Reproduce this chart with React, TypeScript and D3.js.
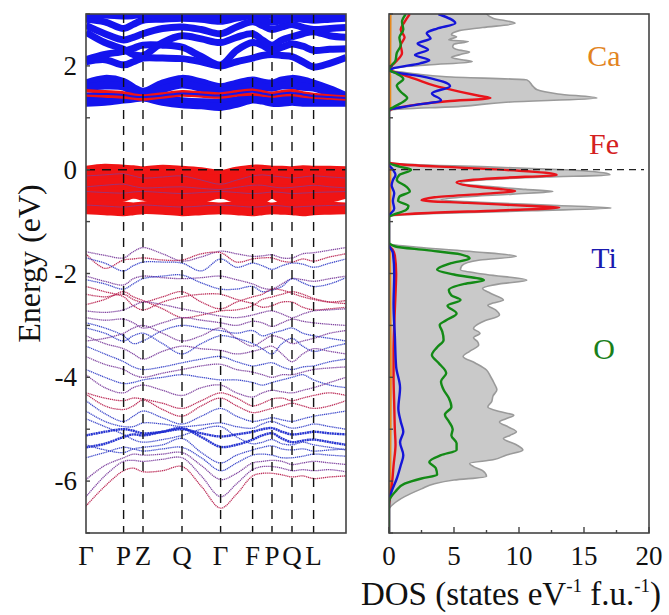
import React from "react";
import * as d3 from "d3";

// ---------- k-path ----------
const kLabels = ["Γ", "P", "Z", "Q", "Γ", "F", "P", "Q", "L", ""];
const kTicks = [0, 0.376, 0.57, 0.96, 1.346, 1.666, 1.86, 2.06, 2.276, 2.6];
const energyTicks = [-6, -4, -2, 0, 2];
const dosTicks = [0, 5, 10, 15, 20];
const dosMinorTicks = [2.5, 7.5, 12.5, 17.5];

// Band energies (eV) at: Γ m P m Z m Q m Γ m F m P m Q m L m end
const upperCond = [
  [2.08, 2.12, 2.02, 2.08, 2.15, 2.15, 2.14, 2.08, 2.0, 2.08, 2.15, 2.2, 2.22, 2.2, 2.18, 2.08, 1.98, 2.05, 2.16],
  [2.12, 2.22, 2.28, 2.34, 2.4, 2.4, 2.36, 2.18, 2.02, 2.3, 2.45, 2.4, 2.3, 2.36, 2.42, 2.38, 2.3, 2.32, 2.33],
  [2.65, 2.45, 2.32, 2.22, 2.2, 2.45, 2.58, 2.52, 2.45, 2.55, 2.62, 2.5, 2.4, 2.5, 2.56, 2.62, 2.66, 2.58, 2.55],
  [2.78, 2.62, 2.5, 2.55, 2.62, 2.72, 2.75, 2.7, 2.62, 2.75, 2.85, 2.78, 2.7, 2.75, 2.8, 2.74, 2.7, 2.72, 2.74],
  [2.9, 2.85, 2.72, 2.8, 2.88, 2.9, 2.92, 2.9, 2.86, 2.92, 2.96, 2.9, 2.84, 2.88, 2.92, 2.9, 2.88, 2.9, 2.92],
  [2.97, 2.98, 2.96, 2.97, 2.99, 2.98, 3.0, 2.98, 2.96, 2.99, 3.02, 3.0, 2.97, 2.98, 3.0, 2.99, 2.98, 2.97, 2.97],
];
const lowerCondBlue = [
  [1.66, 1.75, 1.69, 1.58, 1.5, 1.66, 1.75, 1.68, 1.59, 1.66, 1.72, 1.68, 1.66, 1.72, 1.75, 1.72, 1.66, 1.55, 1.42],
  [1.58, 1.62, 1.6, 1.5, 1.45, 1.55, 1.64, 1.58, 1.5, 1.56, 1.62, 1.6, 1.58, 1.62, 1.62, 1.6, 1.58, 1.48, 1.38],
  [1.37, 1.39, 1.41, 1.4, 1.43, 1.36, 1.32, 1.3, 1.3, 1.34, 1.37, 1.36, 1.34, 1.36, 1.37, 1.35, 1.33, 1.32, 1.32],
  [1.29, 1.31, 1.35, 1.37, 1.39, 1.31, 1.26, 1.24, 1.21, 1.27, 1.35, 1.33, 1.29, 1.29, 1.31, 1.29, 1.29, 1.29, 1.29],
];
const lowerCondRed = [
  [1.52, 1.5, 1.48, 1.44, 1.42, 1.46, 1.5, 1.48, 1.46, 1.5, 1.53, 1.5, 1.47, 1.5, 1.52, 1.48, 1.45, 1.42, 1.4],
  [1.44, 1.42, 1.4, 1.38, 1.36, 1.4, 1.44, 1.42, 1.4, 1.44, 1.46, 1.44, 1.42, 1.44, 1.45, 1.42, 1.4, 1.38, 1.36],
];
const lowerCondMid = [
  [1.47, 1.46, 1.44, 1.41, 1.4, 1.43, 1.47, 1.45, 1.43, 1.47, 1.5, 1.47, 1.44, 1.47, 1.48, 1.45, 1.42, 1.4, 1.38],
];
const feBands = [
  [-0.02, 0.02, 0.0, -0.01, -0.03, 0.0, -0.02, -0.05, -0.1, -0.04, 0.0, 0.0, -0.02, -0.02, -0.03, -0.01, -0.02, -0.02, -0.03],
  [-0.15, -0.12, -0.1, -0.13, -0.15, -0.12, -0.12, -0.16, -0.2, -0.14, -0.1, -0.12, -0.14, -0.13, -0.12, -0.12, -0.13, -0.14, -0.15],
  [-0.28, -0.26, -0.24, -0.26, -0.28, -0.26, -0.25, -0.28, -0.32, -0.28, -0.25, -0.26, -0.27, -0.26, -0.25, -0.26, -0.27, -0.28, -0.28],
  [-0.4, -0.38, -0.37, -0.38, -0.4, -0.38, -0.38, -0.4, -0.42, -0.4, -0.38, -0.38, -0.39, -0.38, -0.38, -0.39, -0.4, -0.4, -0.4],
  [-0.48, -0.47, -0.46, -0.46, -0.46, -0.48, -0.5, -0.5, -0.46, -0.5, -0.48, -0.48, -0.46, -0.49, -0.5, -0.5, -0.49, -0.48, -0.46],
  [-0.58, -0.58, -0.52, -0.46, -0.5, -0.58, -0.58, -0.55, -0.46, -0.55, -0.58, -0.56, -0.46, -0.56, -0.58, -0.58, -0.58, -0.54, -0.46],
  [-0.7, -0.68, -0.71, -0.73, -0.71, -0.68, -0.68, -0.7, -0.73, -0.7, -0.68, -0.69, -0.73, -0.7, -0.68, -0.68, -0.7, -0.71, -0.73],
  [-0.76, -0.78, -0.8, -0.78, -0.76, -0.77, -0.8, -0.78, -0.76, -0.78, -0.8, -0.78, -0.76, -0.77, -0.78, -0.8, -0.78, -0.77, -0.76],
];
const feThin = [
  [-0.12, -0.1, -0.08, -0.12, -0.16, -0.14, -0.12, -0.2, -0.28, -0.2, -0.12, -0.1, -0.12, -0.14, -0.16, -0.14, -0.12, -0.14, -0.16],
  [-0.33, -0.3, -0.28, -0.32, -0.35, -0.34, -0.33, -0.36, -0.38, -0.34, -0.3, -0.3, -0.33, -0.35, -0.34, -0.32, -0.3, -0.33, -0.35],
  [-0.42, -0.44, -0.45, -0.43, -0.42, -0.44, -0.46, -0.44, -0.42, -0.44, -0.46, -0.45, -0.43, -0.44, -0.46, -0.45, -0.44, -0.43, -0.42],
  [-0.68, -0.7, -0.72, -0.7, -0.68, -0.7, -0.72, -0.7, -0.68, -0.7, -0.72, -0.71, -0.69, -0.7, -0.72, -0.71, -0.7, -0.69, -0.68],
];
const oBands = [
  [-1.58, -1.65, -1.7, -1.58, -1.5, -1.62, -1.76, -1.68, -1.57, -1.62, -1.67, -1.66, -1.64, -1.7, -1.7, -1.62, -1.6, -1.55, -1.5],
  [-1.62, -1.9, -1.74, -1.72, -1.7, -1.74, -1.74, -1.62, -1.6, -1.78, -1.72, -1.7, -1.7, -1.76, -1.78, -1.72, -1.76, -1.68, -1.62],
  [-1.7, -1.8, -1.95, -1.85, -1.78, -1.78, -1.8, -1.95, -1.72, -1.88, -1.8, -1.85, -1.92, -1.85, -1.8, -1.82, -1.88, -1.8, -1.72],
  [-2.05, -2.15, -2.22, -2.1, -2.05, -2.08, -2.1, -2.08, -2.05, -2.12, -2.2, -2.28, -2.3, -2.2, -2.1, -2.12, -2.15, -2.1, -2.05],
  [-2.12, -2.2, -2.3, -2.2, -2.1, -2.05, -2.03, -2.18, -2.3, -2.3, -2.25, -2.35, -2.32, -2.25, -2.1, -2.18, -2.25, -2.2, -2.08],
  [-2.4, -2.45, -2.4, -2.5, -2.55, -2.45, -2.35, -2.55, -2.68, -2.55, -2.45, -2.4, -2.3, -2.32, -2.38, -2.45, -2.5, -2.55, -2.52],
  [-2.6, -2.5, -2.35, -2.45, -2.52, -2.68, -2.85, -2.8, -2.72, -2.7, -2.62, -2.5, -2.45, -2.4, -2.35, -2.4, -2.48, -2.55, -2.58],
  [-2.25, -2.35, -2.45, -2.62, -2.7, -2.55, -2.45, -2.4, -2.4, -2.5, -2.58, -2.65, -2.62, -2.55, -2.55, -2.65, -2.7, -2.68, -2.65],
  [-2.72, -2.75, -2.7, -2.62, -2.55, -2.6, -2.68, -2.75, -2.82, -2.85, -2.8, -2.75, -2.72, -2.78, -2.85, -2.78, -2.72, -2.7, -2.68],
  [-2.85, -2.9, -2.88, -2.95, -3.05, -2.95, -2.85, -2.9, -2.95, -3.0, -2.92, -2.95, -3.02, -2.95, -2.88, -2.92, -2.95, -2.98, -3.0],
  [-2.95, -3.05, -3.2, -3.35, -3.3, -3.1, -3.0, -3.05, -3.1, -3.15, -3.1, -3.2, -3.15, -3.1, -3.05, -3.15, -3.2, -3.25, -3.3],
  [-3.3, -3.25, -3.15, -3.05, -3.0, -3.15, -3.3, -3.2, -3.05, -3.25, -3.4, -3.3, -3.2, -3.25, -3.35, -3.3, -3.25, -3.15, -3.1],
  [-3.05, -3.15, -3.3, -3.2, -3.15, -3.35, -3.55, -3.35, -3.2, -3.25, -3.35, -3.45, -3.55, -3.35, -3.25, -3.4, -3.5, -3.42, -3.35],
  [-3.2, -3.35, -3.45, -3.55, -3.65, -3.5, -3.4, -3.45, -3.48, -3.55, -3.5, -3.45, -3.4, -3.55, -3.7, -3.55, -3.45, -3.5, -3.55],
  [-3.4, -3.55, -3.7, -3.8, -3.85, -3.8, -3.72, -3.65, -3.6, -3.7, -3.78, -3.75, -3.72, -3.8, -3.85, -3.8, -3.78, -3.7, -3.65],
  [-3.6, -3.75, -3.85, -3.95, -4.0, -3.92, -3.85, -3.78, -3.75, -3.85, -3.9, -3.95, -4.0, -3.95, -3.95, -3.9, -3.85, -3.82, -3.8],
  [-3.85, -4.0, -4.12, -4.1, -4.05, -4.0, -3.95, -4.0, -4.05, -4.05, -4.1, -4.15, -4.1, -4.05, -4.0, -3.95, -4.05, -4.15, -4.2],
  [-3.95, -4.2, -4.3, -4.2, -4.15, -4.25, -4.35, -4.2, -4.15, -4.3, -4.38, -4.3, -4.25, -4.28, -4.3, -4.25, -4.2, -4.1, -4.0],
  [-4.3, -4.4, -4.45, -4.4, -4.42, -4.5, -4.6, -4.45, -4.3, -4.4, -4.55, -4.5, -4.42, -4.4, -4.45, -4.4, -4.35, -4.3, -4.35],
  [-4.32, -4.55, -4.62, -4.55, -4.44, -4.62, -4.75, -4.55, -4.4, -4.55, -4.68, -4.65, -4.6, -4.55, -4.5, -4.55, -4.6, -4.55, -4.45],
  [-4.45, -4.7, -4.85, -4.75, -4.65, -4.78, -4.9, -4.75, -4.6, -4.75, -4.85, -4.82, -4.78, -4.82, -4.85, -4.8, -4.75, -4.7, -4.65],
  [-4.65, -4.85, -4.95, -4.95, -4.88, -4.9, -4.95, -4.92, -4.88, -4.95, -4.98, -4.9, -4.85, -4.92, -4.98, -4.95, -4.9, -4.95, -5.0],
  [-4.8, -4.95, -5.1, -5.2, -5.25, -5.2, -5.12, -5.0, -4.95, -5.15, -5.28, -5.25, -5.2, -5.28, -5.3, -5.25, -5.3, -5.35, -5.4],
  [-5.12, -5.05, -5.0, -5.03, -5.08, -5.05, -5.0, -5.08, -5.14, -5.1, -5.05, -5.0, -4.98, -5.05, -5.1, -5.08, -5.05, -5.08, -5.1],
  [-5.35, -5.28, -5.15, -5.1, -5.12, -5.05, -4.98, -5.15, -5.34, -5.3, -5.2, -5.12, -5.08, -5.18, -5.25, -5.22, -5.2, -5.25, -5.3],
  [-5.3, -5.4, -5.45, -5.38, -5.35, -5.3, -5.18, -5.45, -5.65, -5.5, -5.4, -5.35, -5.32, -5.38, -5.4, -5.38, -5.42, -5.4, -5.38],
  [-5.55, -5.45, -5.35, -5.38, -5.42, -5.38, -5.35, -5.55, -5.8, -5.65, -5.5, -5.48, -5.5, -5.55, -5.55, -5.52, -5.48, -5.5, -5.52],
  [-5.97, -5.7, -5.55, -5.48, -5.5, -5.48, -5.45, -5.7, -5.97, -5.85, -5.65, -5.62, -5.6, -5.62, -5.68, -5.65, -5.62, -5.65, -5.68],
  [-6.3, -5.9, -5.62, -5.6, -5.62, -5.58, -5.55, -5.9, -6.3, -6.05, -5.78, -5.72, -5.72, -5.75, -5.8, -5.78, -5.8, -5.78, -5.82],
  [-6.48, -6.1, -5.8, -5.75, -5.82, -5.8, -5.72, -6.1, -6.52, -6.25, -5.9, -5.85, -5.85, -5.88, -5.92, -5.9, -5.95, -5.92, -5.9],
];
const oBandTone = ["p", "r", "b", "p", "b", "r", "r", "r", "p", "p", "b", "p", "b", "p", "b", "p", "b", "p", "r", "r", "b", "b", "b", "B", "B", "b", "b", "p", "p", "r"];

// ---------- DOS [energy, states] ----------
const dosTotal = [
  [3.0, 7.5], [2.92, 8.0], [2.82, 9.7], [2.74, 7.2], [2.68, 5.4], [2.6, 4.8], [2.56, 5.2], [2.5, 4.6], [2.47, 6.1], [2.42, 5.0], [2.37, 4.9], [2.31, 5.3], [2.27, 6.2], [2.22, 5.5], [2.16, 4.8], [2.12, 5.6], [2.08, 6.4], [2.02, 3.0], [1.96, 0.5], [1.92, 0.2], [1.85, 2.0], [1.79, 4.4], [1.73, 10.6], [1.6, 11.1], [1.54, 11.4], [1.46, 13.0], [1.38, 16.0], [1.3, 9.0], [1.22, 5.5], [1.15, 0.2], [1.1, 0],
  [0.15, 0], [0.1, 2.0], [0.05, 8.0], [0.0, 13.5], [-0.06, 16.5], [-0.1, 17.0], [-0.14, 12.0], [-0.2, 7.0], [-0.26, 5.5], [-0.32, 7.5], [-0.38, 10.5], [-0.42, 12.6], [-0.47, 9.5], [-0.53, 5.5], [-0.58, 4.0], [-0.63, 7.0], [-0.69, 13.0], [-0.74, 17.1], [-0.79, 11.0], [-0.85, 3.0], [-0.91, 0],
  [-1.42, 0], [-1.5, 2.5], [-1.58, 6.5], [-1.67, 9.8], [-1.74, 7.0], [-1.85, 5.6], [-1.93, 5.5], [-2.02, 7.5], [-2.13, 10.6], [-2.2, 8.5], [-2.29, 7.2], [-2.38, 7.8], [-2.51, 8.8], [-2.57, 8.0], [-2.61, 7.6], [-2.7, 8.2], [-2.8, 8.5], [-2.93, 7.2], [-3.06, 6.5], [-3.15, 7.0], [-3.24, 6.5], [-3.31, 6.8], [-3.38, 6.9], [-3.5, 6.2], [-3.6, 5.7], [-3.72, 6.6], [-3.86, 7.5], [-3.98, 7.8], [-4.12, 8.1], [-4.24, 8.3], [-4.36, 8.0], [-4.47, 7.9], [-4.57, 7.6], [-4.66, 8.5], [-4.73, 9.6], [-4.8, 9.0], [-4.86, 8.5], [-4.96, 9.2], [-5.05, 9.8], [-5.12, 9.3], [-5.18, 8.8], [-5.3, 9.8], [-5.4, 10.3], [-5.5, 9.0], [-5.59, 8.0], [-5.66, 6.2], [-5.72, 6.5], [-5.8, 7.2], [-5.91, 7.5], [-5.98, 5.0], [-6.05, 3.5], [-6.15, 2.5], [-6.3, 1.2], [-6.45, 0.3], [-6.55, 0], [-7.0, 0],
];
const dosCa = [
  [3.0, 0.12], [2.0, 0.1], [1.93, 0.03], [1.8, 0.1], [1.2, 0.1], [1.12, 0], [0.12, 0], [0.05, 0.1], [-0.85, 0.1], [-0.92, 0], [-1.45, 0], [-1.6, 0.08], [-4.0, 0.14], [-6.0, 0.1], [-6.4, 0], [-7.0, 0],
];
const dosFe = [
  [3.0, 1.6], [2.85, 1.2], [2.7, 0.9], [2.55, 1.2], [2.4, 0.9], [2.25, 1.0], [2.1, 0.6], [2.0, 0.2], [1.93, 0.05], [1.85, 0.8], [1.75, 2.0], [1.62, 3.5], [1.5, 5.5], [1.42, 7.0], [1.38, 7.8], [1.32, 4.5], [1.25, 2.0], [1.18, 0.4], [1.14, 0],
  [0.14, 0], [0.1, 1.0], [0.04, 5.5], [-0.02, 10.0], [-0.1, 12.9], [-0.16, 8.5], [-0.24, 5.2], [-0.32, 6.5], [-0.38, 8.8], [-0.41, 9.7], [-0.46, 7.5], [-0.53, 3.5], [-0.59, 2.5], [-0.64, 6.0], [-0.7, 11.0], [-0.73, 13.1], [-0.78, 9.0], [-0.84, 2.5], [-0.9, 0],
  [-1.45, 0], [-1.55, 0.3], [-1.65, 0.45], [-2.0, 0.55], [-2.4, 0.5], [-3.0, 0.4], [-3.5, 0.35], [-4.0, 0.35], [-4.5, 0.4], [-5.0, 0.45], [-5.3, 0.5], [-5.7, 0.35], [-6.0, 0.25], [-6.3, 0.1], [-6.5, 0], [-7.0, 0],
];
const dosTi = [
  [3.0, 3.8], [2.82, 5.1], [2.72, 3.7], [2.63, 2.9], [2.53, 3.2], [2.43, 2.2], [2.31, 3.0], [2.21, 2.0], [2.11, 3.1], [2.05, 2.4], [1.95, 0.3], [1.91, 0.05], [1.78, 2.9], [1.61, 4.7], [1.47, 3.3], [1.34, 4.0], [1.23, 1.6], [1.15, 0],
  [0.1, 0], [0.0, 0.3], [-0.1, 0.5], [-0.2, 0.3], [-0.3, 0.2], [-0.45, 0.4], [-0.6, 0.3], [-0.75, 0.4], [-0.9, 0],
  [-1.45, 0], [-1.6, 0.3], [-2.0, 0.4], [-2.6, 0.35], [-3.2, 0.45], [-3.8, 0.55], [-4.2, 0.85], [-4.6, 0.72], [-4.85, 0.9], [-5.05, 1.1], [-5.25, 0.85], [-5.5, 1.1], [-5.7, 0.9], [-5.95, 0.6], [-6.2, 0.2], [-6.4, 0], [-7.0, 0],
];
const dosO = [
  [3.0, 1.3], [2.85, 1.0], [2.7, 1.1], [2.55, 0.8], [2.4, 0.9], [2.25, 0.6], [2.1, 0.5], [1.98, 0.1], [1.93, 0], [1.85, 0.6], [1.75, 1.1], [1.62, 0.6], [1.5, 0.9], [1.38, 1.4], [1.28, 0.9], [1.2, 0.3], [1.15, 0],
  [0.14, 0], [0.06, 0.8], [0.0, 1.7], [-0.1, 0.8], [-0.2, 0.6], [-0.32, 1.3], [-0.42, 1.6], [-0.52, 0.8], [-0.6, 0.7], [-0.7, 1.5], [-0.78, 1.3], [-0.86, 0.4], [-0.92, 0],
  [-1.4, 0], [-1.48, 0.5], [-1.55, 2.9], [-1.63, 5.5], [-1.71, 6.2], [-1.8, 4.8], [-1.93, 3.7], [-2.02, 5.0], [-2.13, 7.3], [-2.2, 5.8], [-2.32, 4.6], [-2.42, 4.8], [-2.51, 5.5], [-2.62, 4.5], [-2.77, 5.2], [-2.9, 4.4], [-2.99, 3.9], [-3.12, 4.1], [-3.28, 4.2], [-3.42, 3.7], [-3.57, 3.3], [-3.72, 3.8], [-3.92, 4.4], [-4.08, 4.0], [-4.24, 4.2], [-4.4, 4.6], [-4.57, 4.8], [-4.72, 4.3], [-4.85, 4.6], [-5.0, 4.9], [-5.12, 4.8], [-5.27, 5.2], [-5.4, 5.2], [-5.5, 4.0], [-5.63, 3.1], [-5.75, 3.6], [-5.88, 3.7], [-5.95, 2.5], [-6.05, 1.2], [-6.2, 0.5], [-6.4, 0], [-7.0, 0],
];

const speciesLabels = ["Ca", "Fe", "Ti", "O"];
const speciesLabelEnergy = [2.2, 0.5, -1.7, -3.45];

// ---------- styling ----------
const FONT = "'Liberation Serif', 'Times New Roman', serif";
const BLUE = "#1414ee";
const RED = "#f01414";
const toneColor: Record<string, string> = { b: "#3540c8", B: "#1c2ad0", p: "#7a3c9c", r: "#b8204e" };
const speciesColor = ["#e2841e", "#d42020", "#1a1ab0", "#1a801a"];
const dosLineColor = { ca: "#e8891c", fe: "#e8141b", ti: "#1515d8", o: "#138a16" };

const W = 669, H = 615;
const TOP = 14, BOTTOM = 533;
const L1 = 86, R1 = 346, L2 = 389, R2 = 649;

export default function App() {
  const y = d3.scaleLinear().domain([-7, 3]).range([BOTTOM, TOP]);
  const xk = d3.scaleLinear().domain([0, 2.6]).range([L1, R1]);
  const xd = d3.scaleLinear().domain([0, 20]).range([L2, R2]);

  const kGrid: number[] = [];
  kTicks.forEach((k, i) => {
    kGrid.push(k);
    if (i < kTicks.length - 1) kGrid.push((k + kTicks[i + 1]) / 2);
  });

  const bandLine = d3
    .line<number>()
    .x((_, i) => xk(kGrid[i]))
    .y((e) => y(e))
    .curve(d3.curveCatmullRom.alpha(0.5));

  const dosLine = d3
    .line<number[]>()
    .x((d) => xd(d[1]))
    .y((d) => y(d[0]))
    .curve(d3.curveMonotoneY);
  const dosArea = d3
    .area<number[]>()
    .x0(xd(0))
    .x1((d) => xd(d[1]))
    .y((d) => y(d[0]))
    .curve(d3.curveMonotoneY);

  const eTicksAll = d3.range(-7, 4);

  return (
    <svg width={W} height={H} style={{ position: "absolute", left: 0, top: 0, background: "#fff" }} fontFamily={FONT}>
      <defs>
        <clipPath id="clipBand">
          <rect x={L1} y={TOP} width={R1 - L1} height={BOTTOM - TOP} />
        </clipPath>
        <clipPath id="clipDos">
          <rect x={L2} y={TOP} width={R2 - L2} height={BOTTOM - TOP} />
        </clipPath>
      </defs>

      {/* ---------- band structure ---------- */}
      <g clipPath="url(#clipBand)">
        {oBands.map((b, i) => {
          const t = oBandTone[i];
          const thick = t === "B";
          return (
            <path
              key={"o" + i}
              d={bandLine(b) || ""}
              fill="none"
              stroke={toneColor[t]}
              strokeWidth={thick ? 2.4 : 1.3}
              strokeDasharray={thick ? "2 0.5" : "1.2 0.7"}
              opacity={0.95}
            />
          );
        })}
        {feBands.map((b, i) => (
          <path key={"fe" + i} d={bandLine(b) || ""} fill="none" stroke={RED} strokeWidth={10} strokeLinecap="butt" />
        ))}
        {feThin.map((b, i) => (
          <path key={"ft" + i} d={bandLine(b) || ""} fill="none" stroke="#8a3a8e" strokeWidth={1} opacity={0.8} />
        ))}
        {lowerCondBlue.map((b, i) => (
          <path key={"lb" + i} d={bandLine(b) || ""} fill="none" stroke={BLUE} strokeWidth={8} />
        ))}
        {lowerCondRed.map((b, i) => (
          <path key={"lr" + i} d={bandLine(b) || ""} fill="none" stroke={RED} strokeWidth={3.5} />
        ))}
        {lowerCondMid.map((b, i) => (
          <path key={"lm" + i} d={bandLine(b) || ""} fill="none" stroke={BLUE} strokeWidth={2} />
        ))}
        {upperCond.map((b, i) => (
          <path key={"uc" + i} d={bandLine(b) || ""} fill="none" stroke={BLUE} strokeWidth={7} />
        ))}
      </g>

      {/* high-symmetry lines */}
      {kTicks.slice(1, -1).map((k, i) => (
        <line key={"v" + i} x1={xk(k)} x2={xk(k)} y1={TOP} y2={BOTTOM} stroke="#111" strokeWidth={1.4} strokeDasharray="9 7" />
      ))}
      <line x1={L1} x2={R1} y1={y(0)} y2={y(0)} stroke="#111" strokeWidth={1.4} strokeDasharray="9 7" />

      {/* left frame + ticks */}
      <rect x={L1} y={TOP} width={R1 - L1} height={BOTTOM - TOP} fill="none" stroke="#444" strokeWidth={1.6} />
      {eTicksAll.map((e) => (
        <line key={"lt" + e} x1={L1} x2={L1 + 4} y1={y(e)} y2={y(e)} stroke="#444" strokeWidth={1.4} />
      ))}
      {energyTicks.map((e) => (
        <text key={"ly" + e} x={77} y={y(e) + 9} textAnchor="end" fontSize={27} fill="#111">
          {e}
        </text>
      ))}
      {kTicks.map((k, i) => (
        <text key={"kl" + i} x={xk(k)} y={565} textAnchor="middle" fontSize={27} fill="#111">
          {kLabels[i]}
        </text>
      ))}
      <text transform={`translate(40,${(TOP + BOTTOM) / 2 - 10}) rotate(-90)`} textAnchor="middle" fontSize={32} fill="#111">
        Energy (eV)
      </text>

      {/* ---------- DOS ---------- */}
      <g clipPath="url(#clipDos)">
        <path d={dosArea(dosTotal) || ""} fill="#c9c9c9" stroke="none" />
        <path d={dosLine(dosTotal) || ""} fill="none" stroke="#9a9a9a" strokeWidth={1.6} />
        <path d={dosLine(dosCa) || ""} fill="none" stroke={dosLineColor.ca} strokeWidth={2} />
        <path d={dosLine(dosFe) || ""} fill="none" stroke={dosLineColor.fe} strokeWidth={2.4} />
        <path d={dosLine(dosTi) || ""} fill="none" stroke={dosLineColor.ti} strokeWidth={2.4} />
        <path d={dosLine(dosO) || ""} fill="none" stroke={dosLineColor.o} strokeWidth={2.4} />
      </g>
      <line x1={L2} x2={R2 - 5} y1={y(0)} y2={y(0)} stroke="#222" strokeWidth={1.3} strokeDasharray="7 5" />
      <rect x={L2} y={TOP} width={R2 - L2} height={BOTTOM - TOP} fill="none" stroke="#444" strokeWidth={1.6} />
      {eTicksAll.map((e) => (
        <line key={"rt" + e} x1={L2} x2={L2 + 4} y1={y(e)} y2={y(e)} stroke="#444" strokeWidth={1.4} />
      ))}
      {dosTicks.map((t) => (
        <line key={"dt" + t} x1={xd(t)} x2={xd(t)} y1={BOTTOM} y2={BOTTOM - 6} stroke="#444" strokeWidth={1.4} />
      ))}
      {dosMinorTicks.map((t) => (
        <line key={"dm" + t} x1={xd(t)} x2={xd(t)} y1={BOTTOM} y2={BOTTOM - 3} stroke="#444" strokeWidth={1.4} />
      ))}
      {dosTicks.map((t) => (
        <text key={"dl" + t} x={xd(t)} y={565} textAnchor="middle" fontSize={27} fill="#111">
          {t}
        </text>
      ))}
      <text x={511} y={605} textAnchor="middle" fontSize={33} fill="#111">
        DOS (states eV
        <tspan dy={-13} fontSize={19}>-1</tspan>
        <tspan dy={13}> f.u.</tspan>
        <tspan dy={-13} fontSize={19}>-1</tspan>
        <tspan dy={13}>)</tspan>
      </text>
      {speciesLabels.map((s, i) => (
        <text key={s} x={604} y={y(speciesLabelEnergy[i]) + 10} textAnchor="middle" fontSize={30} fill={speciesColor[i]}>
          {s}
        </text>
      ))}
    </svg>
  );
}
